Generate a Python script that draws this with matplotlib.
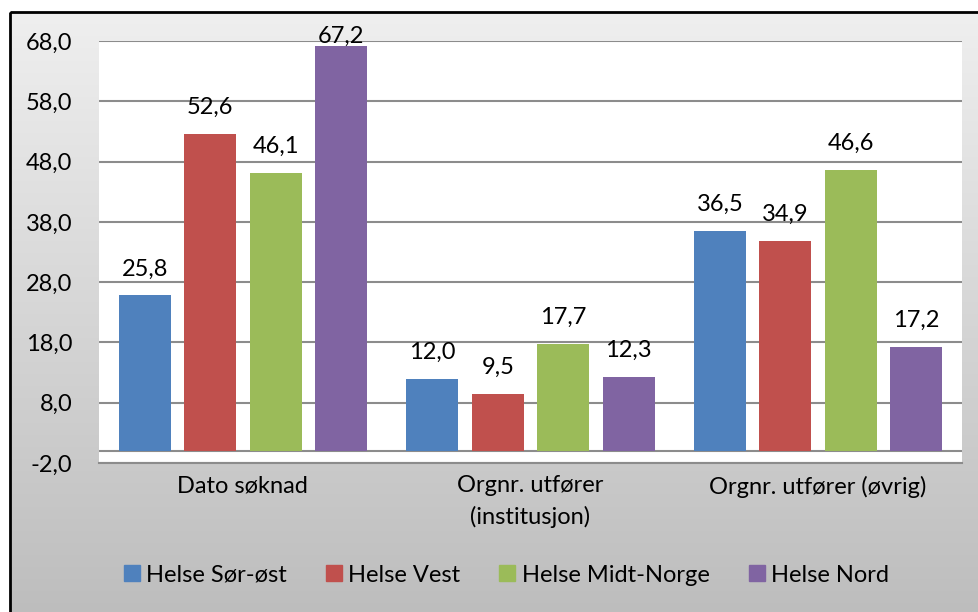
import matplotlib
matplotlib.use('Agg')
from matplotlib import pyplot as plt
import matplotlib.patches as patches
from matplotlib.lines import Line2D
import numpy as np

plt.rcParams['font.family'] = ['Lato', 'DejaVu Sans']

categories = ['Dato søknad', 'Orgnr. utfører\n(institusjon)', 'Orgnr. utfører (øvrig)']
series = ['Helse Sør-øst', 'Helse Vest', 'Helse Midt-Norge', 'Helse Nord']
sor_ost = [25.8, 12.0, 36.5]
vest = [52.6, 9.5, 34.9]
midt = [46.1, 17.7, 46.6]
nord = [67.2, 12.3, 17.2]
colors = ['#4F81BD', '#C0504D', '#9BBB59', '#8064A2']
yticks = [-2, 8, 18, 28, 38, 48, 58, 68]

W, H = 979, 612
FS = 17
fig = plt.figure(figsize=(W / 100, H / 100), dpi=100)

# gray gradient chart background with black frame
bg = fig.add_axes([0, 0, 1, 1], zorder=-5)
bg.axis('off')
grad = np.linspace(0, 1, 256).reshape(-1, 1)
top_c = np.array([0.937, 0.937, 0.937])
bot_c = np.array([0.741, 0.741, 0.741])
img = top_c + grad[..., None] * (bot_c - top_c)
img = np.repeat(img, 2, axis=1)
bg.imshow(img, extent=[10, W + 5, H + 5, 12], aspect='auto', zorder=0)
bg.add_patch(patches.Rectangle((10, 12), W, H, fill=False, edgecolor='black', lw=2, zorder=1))
bg.set_xlim(0, W)
bg.set_ylim(H, 0)

ax = fig.add_axes([99 / W, 1 - 463 / H, 863 / W, 422 / H])
ax.set_facecolor('white')

data = [sor_ost, vest, midt, nord]
x = np.arange(len(categories))
slot = 0.2277
bw = 0.181
for i, vals in enumerate(data):
    pos = x + (i - 1.5) * slot
    ax.bar(pos, vals, width=bw, color=colors[i], zorder=3, label=series[i])
    for p, v in zip(pos, vals):
        ax.text(p, min(v + 4.4, 68.7), ('%.1f' % v).replace('.', ','),
                ha='center', va='center', fontsize=FS, clip_on=False, zorder=4)

ax.set_xlim(-0.5, 2.5)
ax.set_ylim(-2, 68)
ax.set_yticks(yticks)
ax.set_yticklabels([('%.1f' % t).replace('.', ',') for t in yticks], fontsize=FS)
ax.set_xticks(x)
ax.set_xticklabels(categories, fontsize=FS, linespacing=1.5)
ax.tick_params(axis='y', length=0, pad=19)
ax.tick_params(axis='x', length=0, pad=9)
ax.yaxis.grid(True, color='#8c8c8c', lw=1.5, zorder=1)
ax.axhline(0, color='#8c8c8c', lw=1.5, zorder=2)
for s in ax.spines.values():
    s.set_visible(False)
ax.spines['bottom'].set_visible(True)
ax.spines['bottom'].set_color('#8c8c8c')
ax.spines['bottom'].set_linewidth(1.5)

handles = [Line2D([], [], marker='s', linestyle='none', markersize=11,
                  markerfacecolor=c, markeredgecolor=c) for c in colors]
fig.legend(handles, series, loc='center', bbox_to_anchor=(505 / W, 1 - 575 / H),
           ncol=4, frameon=False, fontsize=FS, handletextpad=0.15,
           columnspacing=1.55, handlelength=0.9)

fig.savefig('out.png', dpi=100)
